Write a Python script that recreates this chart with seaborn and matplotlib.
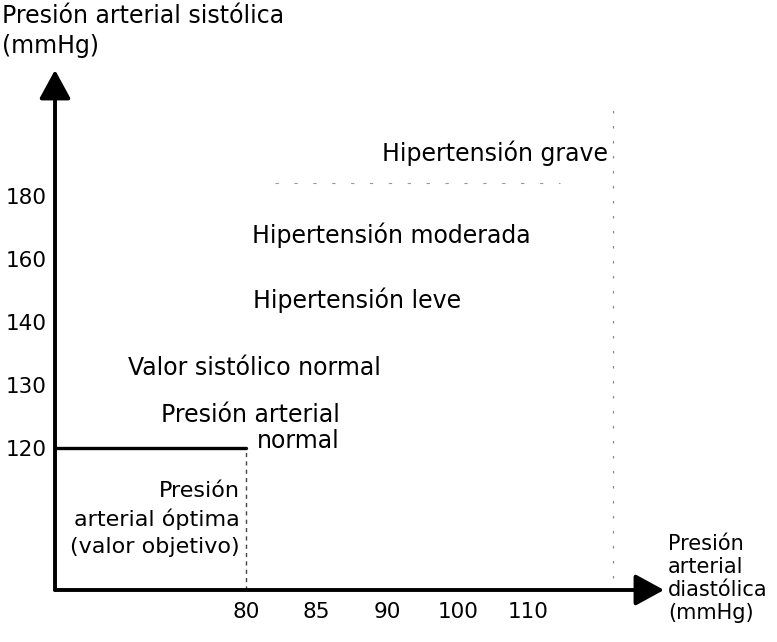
import numpy as np
import matplotlib
matplotlib.use("Agg")
import matplotlib.pyplot as plt
import seaborn as sns

# axis ticks (mmHg)
diastolic_ticks = [80, 85, 90, 100, 110]
systolic_ticks = [120, 130, 140, 160, 180]

# categories from lowest to highest band
categories = [
    "Presión arterial\nnormal",
    "Valor sistólico normal",
    "Hipertensión leve",
    "Hipertensión moderada",
    "Hipertensión grave",
]
optimal_label = "Presión\narterial óptima\n(valor objetivo)"
optimal_limit = (80, 120)  # diastólica, sistólica

y_title = "Presión arterial sistólica\n(mmHg)"
x_title = "Presión\narterial\ndiastólica\n(mmHg)"


def dia_pos(v):
    return np.interp(v, diastolic_ticks, np.arange(len(diastolic_ticks)))


def sys_pos(v):
    return np.interp(v, systolic_ticks, np.arange(len(systolic_ticks)))


sns.set_style("white")
plt.rcParams["font.family"] = ["DejaVu Sans"]
plt.rcParams["text.color"] = "black"
plt.rcParams["xtick.color"] = "black"
plt.rcParams["ytick.color"] = "black"

fig = plt.figure(figsize=(7.77, 6.42), dpi=100)
ax = fig.add_axes([0.0708, 0.081, 0.7838, 0.81])
ax.set_xlim(-2.70, 5.92)
ax.set_ylim(-2.254, 6.0)
for s in ax.spines.values():
    s.set_visible(False)

x0, y0 = ax.get_xlim()[0], ax.get_ylim()[0]

# axes with arrows
arrow = dict(arrowstyle="-|>,head_length=1.1,head_width=0.6", lw=2.8,
             color="black", mutation_scale=16, shrinkA=0, shrinkB=0)
ax.annotate("", xy=(1, 0), xytext=(0, 0), xycoords="axes fraction", arrowprops=arrow)
ax.annotate("", xy=(0, 1), xytext=(0, 0), xycoords="axes fraction", arrowprops=arrow)

# optimal box
ox, oy = dia_pos(optimal_limit[0]), sys_pos(optimal_limit[1])
sns.lineplot(x=[x0, ox], y=[oy, oy], color="black", lw=2.4, ax=ax)
ax.plot([ox, ox], [y0, oy], color="#444444", lw=1, ls=(0, (3, 3)))

# faint remains of band edges
ax.plot([5.2, 5.2], [-2.06, 5.52], color="#888888", lw=0.9, ls=(0, (2, 10)))
ax.plot([0.41, 4.45], [4.21, 4.21], color="#999999", lw=0.8, ls=(0, (3, 14)))

# labels
fs = 17
ax.text(1.33, 0.32, categories[0], ha="right", va="center",
        multialignment="right", fontsize=fs, linespacing=1.1)
ax.text(-1.67, 1.27, categories[1], ha="left", va="center", fontsize=fs)
ax.text(0.10, 2.35, categories[2], ha="left", va="center", fontsize=fs)
ax.text(0.09, 3.38, categories[3], ha="left", va="center", fontsize=fs)
ax.text(5.13, 4.68, categories[4], ha="right", va="center", fontsize=fs)
ax.text(ox - 0.08, (y0 + oy) / 2, optimal_label, ha="right", va="center",
        multialignment="right", fontsize=fs - 1, linespacing=1.45)

ax.set_xticks(dia_pos(diastolic_ticks), [str(v) for v in diastolic_ticks])
ax.set_yticks(sys_pos(systolic_ticks), [str(v) for v in systolic_ticks])
ax.tick_params(length=0, labelsize=15.5)
ax.tick_params(axis="x", pad=9)
ax.tick_params(axis="y", pad=6)

fig.text(0.003, 0.993, y_title, ha="left", va="top", fontsize=fs, linespacing=1.3)
fig.text(0.86, 0.169, x_title, ha="left", va="top", fontsize=15, linespacing=1.2)

fig.savefig("out.png", dpi=100)
